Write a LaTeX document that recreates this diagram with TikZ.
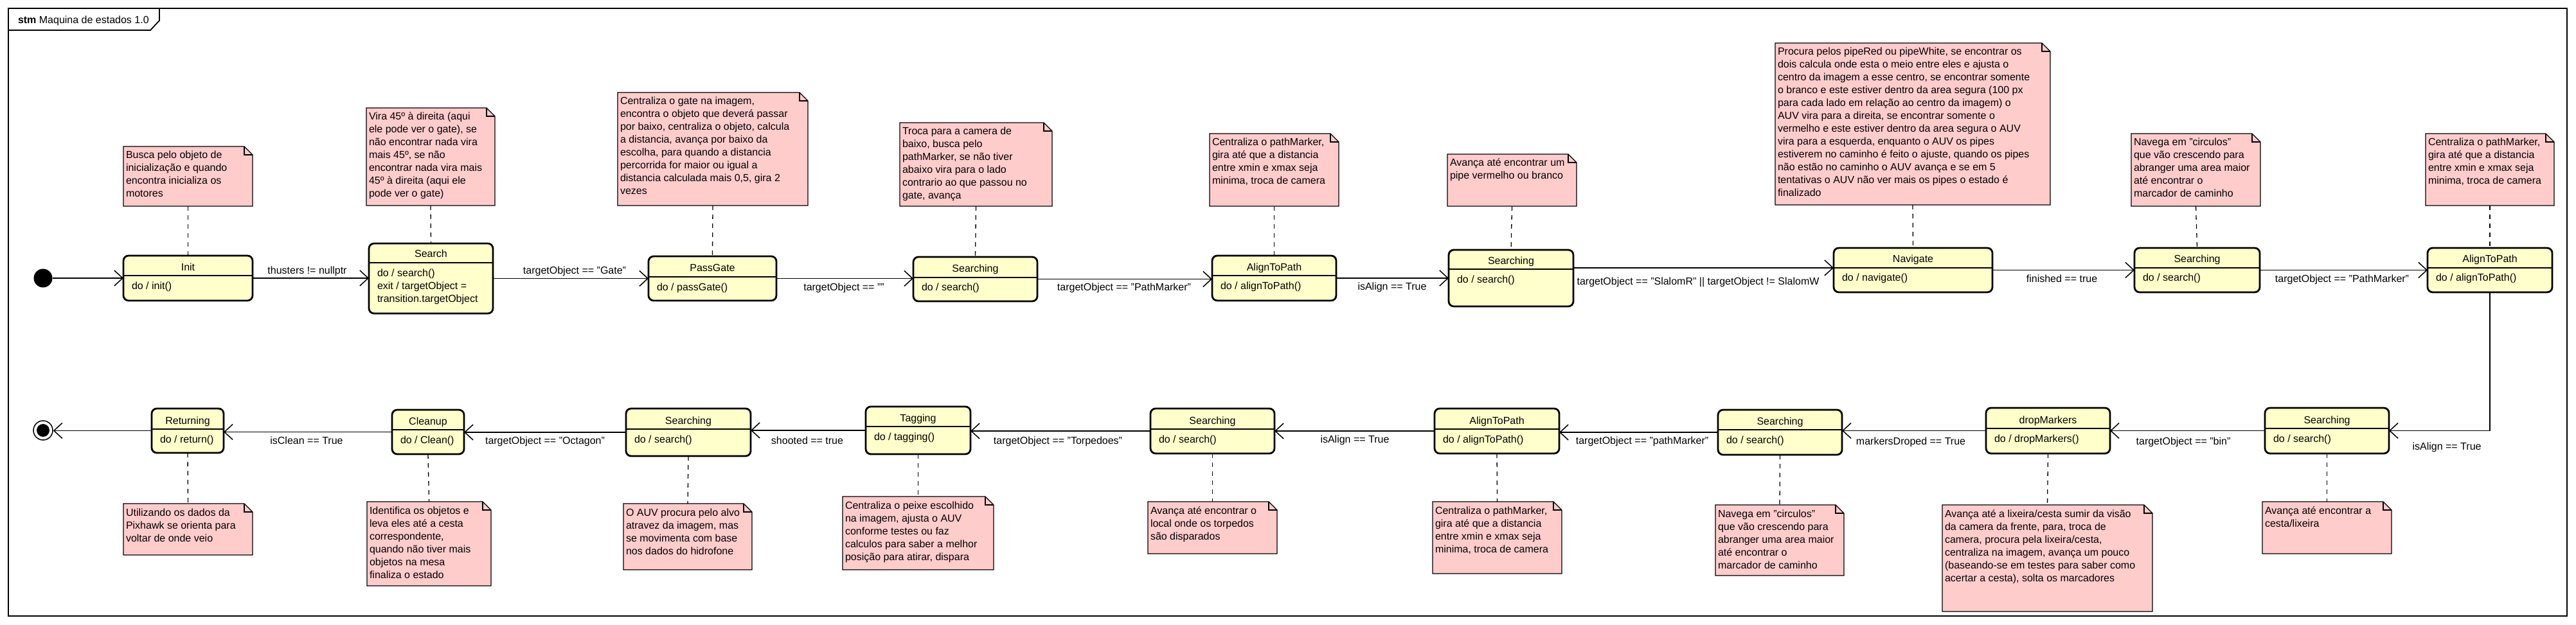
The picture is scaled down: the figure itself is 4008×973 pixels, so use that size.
\documentclass[tikz,border=0pt]{standalone}
\usepackage{fontspec}
\setmainfont{Liberation Sans}
\usetikzlibrary{arrows.meta}
\definecolor{statefill}{HTML}{FFFFCC}
\definecolor{notefill}{HTML}{FFCCCC}

\newcommand\ustate[8]{%
  \node[ustatebox, minimum width={(#4-#2)*1pt}, minimum height={(#5-#3)*1pt}] (#1) at ({(#2+#4)/2},{(#3+#5)/2}) {};
  \draw[divline] (#2,#6) -- (#4,#6);
  \node[txt, anchor=base] (#1-title) at ({(#2+#4)/2},#6-8) {#7};
  \node[txt, anchor=north west] (#1-body) at (#2+13,#6+6) {\rule{0pt}{15pt}#8};
}
\newcommand\unote[6]{%
  \node[notenode, minimum width={(#4-#2)*1pt}, minimum height={(#5-#3)*1pt}] (#1) at ({(#2+#4)/2},{(#3+#5)/2}) {};
  \draw[notedraw] (#1.north west) -- ([xshift=-13pt]#1.north east) -- ([yshift=-13pt]#1.north east) -- (#1.south east) -- (#1.south west) -- cycle;
  \draw[notefold] ([xshift=-13pt]#1.north east) |- ([yshift=-13pt]#1.north east);
  \node[txt, anchor=north west] (#1-text) at (#2+4,#3+4) {\rule{0pt}{15pt}#6};
}

\begin{document}
\begin{tikzpicture}[x=1pt,y=-1pt,
 txt/.style={font=\fontsize{16}{20}\selectfont, inner sep=0pt, outer sep=0pt, align=left},
 lbl/.style={txt, anchor=base},
 ustatebox/.style={rectangle, draw=black, line width=2.8pt, fill=statefill, rounded corners=8pt, inner sep=0pt, outer sep=0pt},
 divline/.style={line width=1.5pt},
 notenode/.style={rectangle, inner sep=0pt, outer sep=0pt},
 notedraw/.style={draw=black, fill=notefill, line width=1.2pt, line join=miter},
 notefold/.style={line width=1.2pt},
 notelink/.style={line width=1.3pt, dash pattern=on 7pt off 7pt},
 trans/.style={line width=1.5pt, -{Straight Barb[length=13pt,width=24pt,line width=1.5pt]}},
 frameline/.style={line width=1.8pt},
]
\useasboundingbox[fill=white] (0,0) rectangle (4008,973);

% frame
\draw[frameline] (13,13) rectangle (3994,959);
\draw[frameline] (13,47) -- (234,47) -- (248,32) -- (248,13);
\node[txt, anchor=base west] (frametitle) at (28,37) {\textbf{stm} Maquina de estados 1.0};

% pseudo states
\node[circle, fill=black, minimum size=29pt, inner sep=0pt] (start) at (67,433) {};
\node[circle, draw=black, fill=white, line width=1.5pt, minimum size=30pt, inner sep=0pt] (final) at (67,670) {};
\fill (final.center) circle (10);

% states (top row)
\ustate{init}{192}{398}{393}{468}{429}{Init}{do / init()}
\ustate{search}{574}{379}{767}{488}{409}{Search}{do / search()\\exit / targetObject =\\transition.targetObject}
\ustate{passgate}{1009}{399}{1208}{468}{431}{PassGate}{do / passGate()}
\ustate{searchingA}{1421}{400}{1614}{469}{432}{Searching}{do / search()}
\ustate{alignA}{1886}{398}{2079}{468}{429}{AlignToPath}{do / alignToPath()}
\ustate{searchingB}{2254}{389}{2448}{477}{419}{Searching}{do / search()}
\ustate{navigate}{2853}{386}{3100}{455}{417}{Navigate}{do / navigate()}
\ustate{searchingC}{3321}{386}{3516}{455}{417}{Searching}{do / search()}
\ustate{alignB}{3777}{386}{3971}{455}{417}{AlignToPath}{do / alignToPath()}
% states (bottom row)
\ustate{searchingD}{3524}{635}{3717}{706}{667}{Searching}{do / search()}
\ustate{dropmarkers}{3090}{635}{3283}{706}{667}{dropMarkers}{do / dropMarkers()}
\ustate{searchingE}{2673}{638}{2866}{708}{669}{Searching}{do / search()}
\ustate{alignC}{2232}{636}{2426}{706}{668}{AlignToPath}{do / alignToPath()}
\ustate{searchingF}{1790}{636}{1983}{706}{668}{Searching}{do / search()}
\ustate{tagging}{1347}{633}{1510}{707}{664}{Tagging}{do / tagging()}
\ustate{searchingG}{974}{636}{1168}{710}{668}{Searching}{do / search()}
\ustate{cleanup}{610}{638}{722}{707}{669}{Cleanup}{do / Clean()}
\ustate{returning}{236}{636}{348}{705}{668}{Returning}{do / return()}

% notes
\unote{ninit}{192}{228}{393}{321}{Busca pelo objeto de\\inicialização e quando\\encontra inicializa os\\motores}
\unote{nsearch}{570}{168}{770}{320}{Vira 45º à direita (aqui\\ele pode ver o gate), se\\não encontrar nada vira\\mais 45º, se não\\encontrar nada vira mais\\45º à direita (aqui ele\\pode ver o gate)}
\unote{npassgate}{961}{144}{1257}{320}{Centraliza o gate na imagem,\\encontra o objeto que deverá passar\\por baixo, centraliza o objeto, calcula\\a distancia, avança por baixo da\\escolha, para quando a distancia\\percorrida for maior ou igual a\\distancia calculada mais 0,5, gira 2\\vezes}
\unote{nsearchingA}{1400}{191}{1637}{321}{Troca para a camera de\\baixo, busca pelo\\pathMarker, se não tiver\\abaixo vira para o lado\\contrario ao que passou no\\gate, avança}
\unote{nalignA}{1882}{208}{2083}{321}{Centraliza o pathMarker,\\gira até que a distancia\\entre xmin e xmax seja\\minima, troca de camera}
\unote{nsearchingB}{2252}{240}{2453}{321}{Avança até encontrar um\\pipe vermelho ou branco}
\unote{nnavigate}{2762}{67}{3190}{319}{Procura pelos pipeRed ou pipeWhite, se encontrar os\\dois calcula onde esta o meio entre eles e ajusta o\\centro da imagem a esse centro, se encontrar somente\\o branco e este estiver dentro da area segura (100 px\\para cada lado em relação ao centro da imagem) o\\AUV vira para a direita, se encontrar somente o\\vermelho e este estiver dentro da area segura o AUV\\vira para a esquerda, enquanto o AUV os pipes\\estiverem no caminho é feito o ajuste, quando os pipes\\não estão no caminho o AUV avança e se em 5\\tentativas o AUV não ver mais os pipes o estado é\\finalizado}
\unote{nsearchingC}{3316}{208}{3517}{321}{Navega em "circulos"\\que vão crescendo para\\abranger uma area maior\\até encontrar o\\marcador de caminho}
\unote{nalignB}{3774}{208}{3974}{320}{Centraliza o pathMarker,\\gira até que a distancia\\entre xmin e xmax seja\\minima, troca de camera}
\unote{nsearchingD}{3520}{781}{3721}{862}{Avança até encontrar a\\cesta/lixeira}
\unote{ndropmarkers}{3022}{786}{3349}{952}{Avança até a lixeira/cesta sumir da visão\\da camera da frente, para, troca de\\camera, procura pela lixeira/cesta,\\centraliza na imagem, avança um pouco\\(baseando-se em testes para saber como\\acertar a cesta), solta os marcadores}
\unote{nsearchingE}{2669}{786}{2869}{896}{Navega em "circulos"\\que vão crescendo para\\abranger uma area maior\\até encontrar o\\marcador de caminho}
\unote{nalignC}{2229}{781}{2430}{893}{Centraliza o pathMarker,\\gira até que a distancia\\entre xmin e xmax seja\\minima, troca de camera}
\unote{nsearchingF}{1786}{781}{1987}{862}{Avança até encontrar o\\local onde os torpedos\\são disparados}
\unote{ntagging}{1311}{773}{1546}{887}{Centraliza o peixe escolhido\\na imagem, ajusta o AUV\\conforme testes ou faz\\calculos para saber a melhor\\posição para atirar, dispara}
\unote{nsearchingG}{970}{784}{1170}{887}{O AUV procura pelo alvo\\atravez da imagem, mas\\se movimenta com base\\nos dados do hidrofone}
\unote{ncleanup}{571}{781}{764}{912}{Identifica os objetos e\\leva eles até a cesta\\correspondente,\\quando não tiver mais\\objetos na mesa\\finaliza o estado}
\unote{nreturning}{192}{784}{393}{864}{Utilizando os dados da\\Pixhawk se orienta para\\voltar de onde veio}

% note links
\foreach \n/\s in {ninit/init, nsearch/search, npassgate/passgate, nsearchingA/searchingA, nalignA/alignA, nsearchingB/searchingB, nnavigate/navigate, nsearchingC/searchingC, nalignB/alignB}
  \draw[notelink] (\n.south) -- (\s.north);
\foreach \n/\s in {nsearchingD/searchingD, ndropmarkers/dropmarkers, nsearchingE/searchingE, nalignC/alignC, nsearchingF/searchingF, ntagging/tagging, nsearchingG/searchingG, ncleanup/cleanup, nreturning/returning}
  \draw[notelink] (\s.south) -- (\n.north);

% transitions top row
\draw[trans] (start.east) -- (start.east -| init.west);
\draw[trans] (init.east) -- (init.east -| search.west);
\draw[trans] (search.east) -- (search.east -| passgate.west);
\draw[trans] (passgate.east) -- (passgate.east -| searchingA.west);
\draw[trans] (searchingA.east) -- (searchingA.east -| alignA.west);
\draw[trans] (alignA.east) -- (alignA.east -| searchingB.west);
\draw[trans] ([yshift=16pt]searchingB.east) -- ([yshift=16pt]searchingB.east -| navigate.west);
\draw[trans] (navigate.east) -- (navigate.east -| searchingC.west);
\draw[trans] (searchingC.east) -- (searchingC.east -| alignB.west);
\draw[trans] (alignB.south) |- (searchingD.east);
% transitions bottom row
\draw[trans] (searchingD.west) -- (searchingD.west -| dropmarkers.east);
\draw[trans] (dropmarkers.west) -- (dropmarkers.west -| searchingE.east);
\draw[trans] (searchingE.west) -- (searchingE.west -| alignC.east);
\draw[trans] (alignC.west) -- (alignC.west -| searchingF.east);
\draw[trans] (searchingF.west) -- (searchingF.west -| tagging.east);
\draw[trans] (tagging.west) -- (tagging.west -| searchingG.east);
\draw[trans] (searchingG.west) -- (searchingG.west -| cleanup.east);
\draw[trans] (cleanup.west) -- (cleanup.west -| returning.east);
\draw[trans] (returning.west) -- (returning.west -| final.east);

% transition labels
\node[lbl] (l1) at (478,427) {thusters != nullptr};
\node[lbl] (l2) at (894,427) {targetObject == "Gate"};
\node[lbl] (l3) at (1313,452) {targetObject == ""};
\node[lbl] (l4) at (1749,452) {targetObject == "PathMarker"};
\node[lbl] (l5) at (2166,451) {isAlign == True};
\node[lbl] (l6) at (2642,443) {targetObject == "SlalomR" || targetObject != SlalomW};
\node[lbl] (l7) at (3208,439) {finished == true};
\node[lbl] (l8) at (3644,439) {targetObject == "PathMarker"};
\node[lbl] (l9) at (3807,700) {isAlign == True};
\node[lbl] (l10) at (3397,692) {targetObject == "bin"};
\node[lbl] (l11) at (2973,692) {markersDroped == True};
\node[lbl] (l12) at (2555,691) {targetObject == "pathMarker"};
\node[lbl] (l13) at (2108,689) {isAlign == True};
\node[lbl] (l14) at (1646,691) {targetObject == "Torpedoes"};
\node[lbl] (l15) at (1256,691) {shooted == true};
\node[lbl] (l16) at (848,691) {targetObject == "Octagon"};
\node[lbl] (l17) at (477,691) {isClean == True};
\end{tikzpicture}
\end{document}
